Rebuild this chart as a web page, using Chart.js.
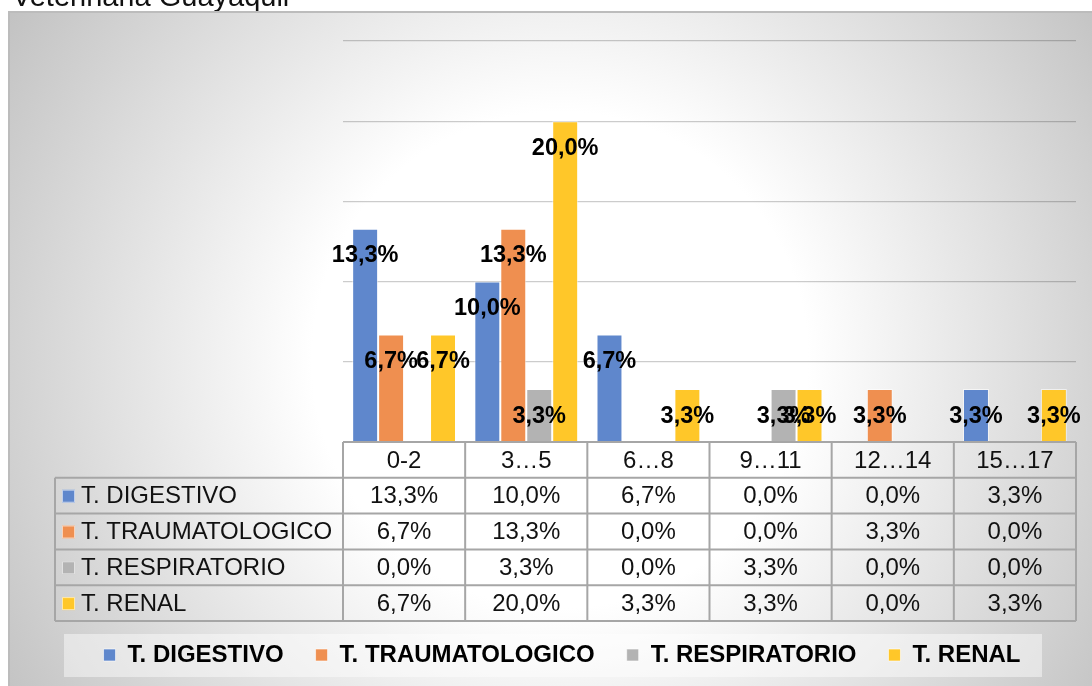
<!DOCTYPE html>
<html>
<head>
<meta charset="utf-8">
<script src="https://cdn.jsdelivr.net/npm/chart.js@4.4.0/dist/chart.umd.min.js"></script>
<style>
  html, body { margin: 0; padding: 0; background: #fff; }
  #wrap { width: 1092px; height: 686px; position: relative; }
</style>
</head>
<body>
<div id="wrap"><canvas id="chart"></canvas></div>
<script>
// Data
const chartTitle = 'Veterinaria Guayaquil';
const categories = ['0-2', '3…5', '6…8', '9…11', '12…14', '15…17'];
const seriesNames = ['T. DIGESTIVO', 'T. TRAUMATOLOGICO', 'T. RESPIRATORIO', 'T. RENAL'];
const digestivo = [13.3, 10.0, 6.7, 0.0, 0.0, 3.3];
const traumatologico = [6.7, 13.3, 0.0, 0.0, 3.3, 0.0];
const respiratorio = [0.0, 3.3, 0.0, 3.3, 0.0, 0.0];
const renal = [6.7, 20.0, 3.3, 3.3, 0.0, 3.3];
const yMax = 25;
const yStep = 5;

const colors = ['#5f87cc', '#ef8f50', '#b3b3b3', '#ffc729'];
const FAMILY = '"Liberation Sans", Arial, sans-serif';
const LABEL_FS = 23.5;
const TABLE_FS = 24;

const fmt = v => v.toFixed(1).replace('.', ',') + '%';

// Background, title (cut off at the top) and legend panel
const background = {
    id: 'background',
    beforeDraw(chart) {
        const ctx = chart.ctx;
        const W = chart.width, H = chart.height;
        ctx.save();
        ctx.fillStyle = '#fff';
        ctx.fillRect(0, 0, W, H);
        ctx.fillStyle = '#111';
        ctx.font = '29px ' + FAMILY;
        ctx.textBaseline = 'alphabetic';
        ctx.fillText(chartTitle, 12, 6);

        const g = ctx.createRadialGradient(560, 360, 0, 560, 360, 800);
        g.addColorStop(0, '#ffffff');
        g.addColorStop(0.31, '#ffffff');
        g.addColorStop(1, 'rgb(172,172,172)');
        ctx.fillStyle = g;
        ctx.fillRect(8, 11, W - 8, H - 11);
        ctx.strokeStyle = '#bcbcbc';
        ctx.lineWidth = 2;
        ctx.beginPath();
        ctx.moveTo(9, H);
        ctx.lineTo(9, 12);
        ctx.lineTo(W, 12);
        ctx.stroke();

        ctx.fillStyle = 'rgba(255,255,255,0.45)';
        ctx.fillRect(64, 634, 978, 43);
        ctx.restore();
    }
};

// Value labels inside the top of each bar
const barLabels = {
    id: 'barLabels',
    afterDatasetsDraw(chart) {
        const ctx = chart.ctx;
        ctx.save();
        ctx.font = 'bold ' + LABEL_FS + 'px ' + FAMILY;
        ctx.fillStyle = '#000';
        ctx.textAlign = 'center';
        ctx.textBaseline = 'middle';
        chart.data.datasets.forEach((ds, i) => {
            chart.getDatasetMeta(i).data.forEach((bar, j) => {
                const v = ds.data[j];
                if (!v) return;
                ctx.fillText(fmt(v), bar.x, bar.y + 27);
            });
        });
        ctx.restore();
    }
};

// Data table under the plot
const dataTable = {
    id: 'dataTable',
    afterDraw(chart) {
        const ctx = chart.ctx;
        const area = chart.chartArea;
        const xs = chart.scales.x;
        const colW = (area.right - area.left) / categories.length;
        const top = area.bottom;
        const rowH = 35.8;
        const leftX = 55;
        const nRows = chart.data.datasets.length + 1;
        const bottom = top + rowH * nRows;

        ctx.save();
        ctx.strokeStyle = '#a6a6a6';
        ctx.lineWidth = 2;
        ctx.beginPath();
        // horizontal lines
        ctx.moveTo(area.left, top); ctx.lineTo(area.right, top);
        for (let r = 1; r <= nRows; r++) {
            const y = top + r * rowH;
            ctx.moveTo(leftX, y); ctx.lineTo(area.right, y);
        }
        // vertical lines
        ctx.moveTo(leftX, top + rowH); ctx.lineTo(leftX, bottom);
        for (let c = 0; c <= categories.length; c++) {
            const x = area.left + c * colW;
            ctx.moveTo(x, top); ctx.lineTo(x, bottom);
        }
        ctx.stroke();

        ctx.font = TABLE_FS + 'px ' + FAMILY;
        ctx.fillStyle = '#111';
        ctx.textBaseline = 'middle';
        ctx.textAlign = 'center';
        categories.forEach((c, i) => {
            ctx.fillText(c, xs.getPixelForValue(i), top + rowH / 2 + 1);
        });
        chart.data.datasets.forEach((ds, r) => {
            const cy = top + (r + 1.5) * rowH + 1;
            ctx.fillStyle = ds.backgroundColor;
            ctx.fillRect(62, cy - 7, 13, 13);
            ctx.strokeStyle = 'rgba(255,255,255,0.6)';
            ctx.lineWidth = 1;
            ctx.strokeRect(62.5, cy - 6.5, 12, 12);
            ctx.fillStyle = '#111';
            ctx.textAlign = 'left';
            ctx.fillText(ds.label, 81, cy);
            ctx.textAlign = 'center';
            ds.data.forEach((v, i) => {
                ctx.fillText(fmt(v), xs.getPixelForValue(i), cy);
            });
        });
        ctx.restore();
    }
};

const seriesData = [digestivo, traumatologico, respiratorio, renal];

const chart = new Chart(document.getElementById('chart'), {
    type: 'bar',
    data: {
        labels: categories,
        datasets: seriesNames.map((name, i) => ({
            label: name,
            data: seriesData[i],
            backgroundColor: colors[i],
            borderColor: 'rgba(255,255,255,0.6)',
            borderWidth: 1,
            categoryPercentage: 0.85,
            barPercentage: 1.0
        }))
    },
    options: {
        responsive: true,
        maintainAspectRatio: false,
        animation: false,
        layout: {
            padding: { left: 48, right: 16, top: 41, bottom: 9 }
        },
        plugins: {
            title: { display: false },
            tooltip: { enabled: false },
            legend: {
                position: 'bottom',
                labels: {
                    boxWidth: 12,
                    boxHeight: 12,
                    padding: 32,
                    color: '#000',
                    font: { family: FAMILY, size: TABLE_FS, weight: 'bold' }
                }
            }
        },
        scales: {
            x: {
                grid: { display: false },
                border: { display: false },
                ticks: { display: false },
                afterFit(s) { s.height = 169; }
            },
            y: {
                min: 0,
                max: yMax,
                ticks: { display: false, stepSize: yStep },
                grid: { color: 'rgba(0,0,0,0.2)', lineWidth: 1.3, drawTicks: false },
                border: { display: false },
                afterFit(s) { s.width = 295; }
            }
        }
    },
    plugins: [background, barLabels, dataTable]
});
</script>
</body>
</html>
